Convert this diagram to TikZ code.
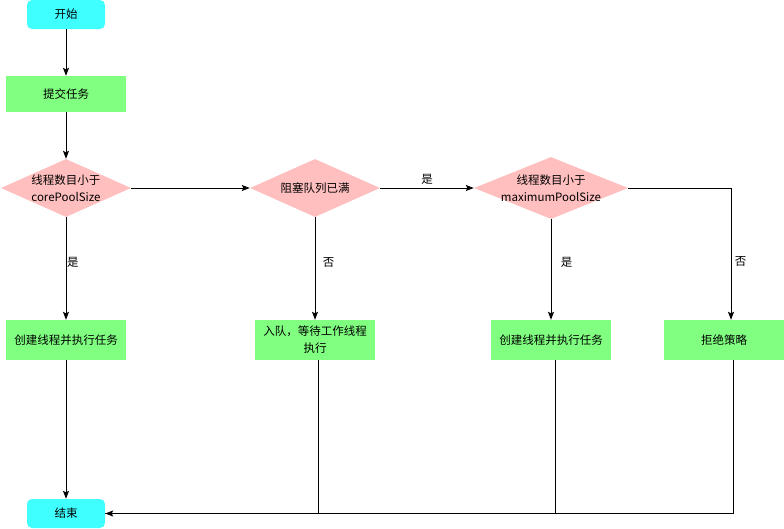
\documentclass[tikz,border=0pt]{standalone}
\usepackage{fontspec}
\setmainfont{Noto Sans CJK SC}
\usetikzlibrary{arrows.meta,shapes.geometric}
\definecolor{termcyan}{HTML}{40FFFF}
\definecolor{boxgreen}{HTML}{80FF80}
\definecolor{testpink}{HTML}{FFBFBF}

\begin{document}
\begin{tikzpicture}[x=1pt,y=-1pt,
    every node/.style={font=\fontsize{11.5}{17}\selectfont},
    term/.style={fill=termcyan,rounded corners=5pt,minimum width=78pt,minimum height=29pt},
    box/.style={fill=boxgreen,minimum width=120pt,minimum height=40pt,align=center},
    test/.style={diamond,fill=testpink,inner sep=0pt,minimum width=130pt,minimum height=58pt,aspect=2.24},
    flow/.style={line width=1pt,-{Stealth[length=8pt,width=6pt,inset=1.5pt]}}]
\useasboundingbox (0,0) rectangle (784,528);

\node[term] (start) at (66,14.5) {开始};
\node[box,minimum height=36pt] (submit) at (66,94) {提交任务};
\node[test,label={[align=center]center:线程数目小于\\corePoolSize}] (coreTest) at (66,188) {};
\node[test,label={[align=center]center:阻塞队列已满}] (queueTest) at (315,188) {};
\node[test,minimum width=154pt,minimum height=62pt,aspect=2.48,
    label={[align=center]center:线程数目小于\\maximumPoolSize}] (maxTest) at (551,188) {};

\node[box] (coreRun) at (66,340) {创建线程并执行任务};
\node[box] (enqueue) at (315,340) {入队，等待工作线程\\执行};
\node[box] (maxRun) at (551,340) {创建线程并执行任务};
\node[box] (reject) at (724,340) {拒绝策略};
\node[term] (finish) at (66,513.5) {结束};

\draw[flow] (start) -- (submit);
\draw[flow] (submit) -- (coreTest);
\draw[flow] (coreTest) -- node[right,inner sep=0.5pt,pos=0.44]{是} (coreRun);
\draw[flow] (coreTest) -- (queueTest);
\draw[flow] (queueTest) -- node[above]{是} (maxTest);
\draw[flow] (queueTest) -- node[right=4pt,pos=0.44]{否} (enqueue);
\draw[flow] (maxTest) -- node[right=6pt,pos=0.43]{是} (maxRun);
\draw[flow] (maxTest.east) -| node[right,pos=0.78]{否} ([xshift=7pt]reject.north);

% back to the end
\draw[flow] (coreRun) -- (finish);
\draw[line width=1pt] ([xshift=3pt]enqueue.south) |- (finish.east);
\draw[line width=1pt] ([xshift=4pt]maxRun.south) |- (finish.east);
\draw[flow] ([xshift=9pt]reject.south) |- (finish.east);

\end{tikzpicture}
\end{document}
